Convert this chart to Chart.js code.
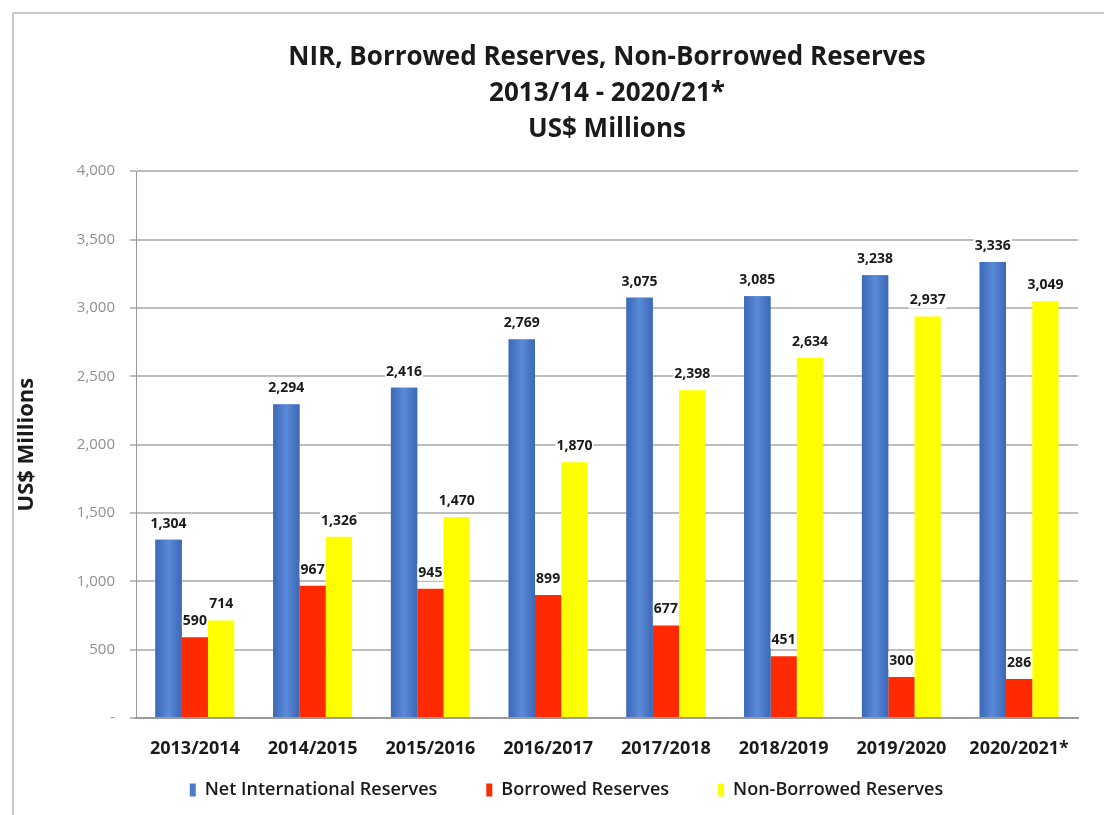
<!DOCTYPE html>
<html>
<head>
<meta charset="utf-8">
<script src="https://cdn.jsdelivr.net/npm/chart.js@4/dist/chart.umd.min.js"></script>
<style>
  html, body { margin: 0; padding: 0; background: #fff; }
  #wrap { position: relative; width: 1104px; height: 815px; }
  #frame { position: absolute; left: 12px; top: 12px; right: 0; bottom: 0; border-left: 2px solid #c8c8c8; border-top: 2px solid #c8c8c8; pointer-events: none; }
</style>
</head>
<body>
<div id="wrap">
  <canvas id="chart" width="1104" height="815"></canvas>
  <div id="frame"></div>
</div>
<script>
const years = ["2013/2014", "2014/2015", "2015/2016", "2016/2017", "2017/2018", "2018/2019", "2019/2020", "2020/2021*"];
const nir = [1304, 2294, 2416, 2769, 3075, 3085, 3238, 3336];
const borrowed = [590, 967, 945, 899, 677, 451, 300, 286];
const nonBorrowed = [714, 1326, 1470, 1870, 2398, 2634, 2937, 3049];
const titleLines = ["NIR, Borrowed Reserves, Non-Borrowed Reserves", "2013/14 - 2020/21*", "US$ Millions"];

const FONT = "'Open Sans', 'Liberation Sans', sans-serif";
const GAP = "\u2003\u2003\u2009";           // extra room between legend entries
const TAIL = "\u2003\u2003\u2003\u2003\u2002"; // nudges the legend row to the left

// soft horizontal shading on the blue bars
const blueShade = {
  id: "blueShade",
  afterDatasetDraw(chart, args) {
    if (args.index !== 0) return;
    const ctx = chart.ctx;
    ctx.save();
    args.meta.data.forEach(bar => {
      const left = bar.x - bar.width / 2;
      const g = ctx.createLinearGradient(left, 0, left + bar.width, 0);
      g.addColorStop(0, "#3c68b6");
      g.addColorStop(0.5, "#5a8ad8");
      g.addColorStop(1, "#3c68b6");
      ctx.fillStyle = g;
      ctx.fillRect(left, bar.y, bar.width, bar.base - bar.y);
    });
    ctx.restore();
  }
};

// value labels above each bar, on a white patch so gridlines don't run through them
const barLabels = {
  id: "barLabels",
  afterDatasetsDraw(chart) {
    const ctx = chart.ctx;
    ctx.save();
    ctx.font = "bold 14px " + FONT;
    ctx.textAlign = "center";
    ctx.textBaseline = "bottom";
    chart.data.datasets.forEach((ds, i) => {
      chart.getDatasetMeta(i).data.forEach((bar, j) => {
        const txt = ds.data[j].toLocaleString("en-US");
        const w = ctx.measureText(txt).width;
        const y = bar.y - 9;
        ctx.fillStyle = "#fff";
        ctx.fillRect(bar.x - w / 2 - 1, y - 16, w + 2, 17);
        ctx.fillStyle = "#1a1a1a";
        ctx.fillText(txt, bar.x, y);
      });
    });
    ctx.restore();
  }
};

new Chart(document.getElementById("chart"), {
  type: "bar",
  data: {
    labels: years,
    datasets: [
      { label: "Net International Reserves" + GAP, data: nir, backgroundColor: "#4a7bcb" },
      { label: "Borrowed Reserves" + GAP, data: borrowed, backgroundColor: "#ff2a00" },
      { label: "Non-Borrowed Reserves" + TAIL, data: nonBorrowed, backgroundColor: "#ffff00" }
    ]
  },
  options: {
    responsive: false,
    animation: false,
    layout: { padding: { left: 14, right: 26, top: 14, bottom: 6 } },
    datasets: { bar: { categoryPercentage: 0.67, barPercentage: 1.0 } },
    plugins: {
      title: {
        display: true,
        fullSize: false,
        text: titleLines,
        color: "#1a1a1a",
        font: { family: FONT, size: 26, weight: "bold", lineHeight: 1.4 },
        padding: { top: 25, bottom: 23 }
      },
      legend: {
        position: "bottom",
        fullSize: false,
        labels: {
          color: "#1a1a1a",
          font: { family: FONT, size: 18, weight: "600" },
          boxWidth: 6,
          boxHeight: 13,
          padding: 10
        }
      },
      tooltip: { enabled: false }
    },
    scales: {
      x: {
        afterFit(scale) { scale.height = 53; },
        grid: { display: false },
        border: { color: "#9a9a9a", width: 2 },
        ticks: { color: "#1a1a1a", font: { family: FONT, size: 18, weight: "bold" }, padding: 12 }
      },
      y: {
        min: 0,
        max: 4000,
        afterFit(scale) { scale.width = 122; },
        grid: { color: "#bdbdbd", lineWidth: 2, tickLength: 6 },
        border: { color: "#9a9a9a", width: 1 },
        title: {
          display: true,
          text: "US$ Millions",
          color: "#1a1a1a",
          font: { family: FONT, size: 22, weight: "bold" },
          padding: { top: 0, bottom: 0 }
        },
        ticks: {
          stepSize: 500,
          color: "#8f8f8f",
          font: { family: FONT, size: 15 },
          padding: 15,
          callback: v => v === 0 ? "-" : v.toLocaleString("en-US")
        }
      }
    }
  },
  plugins: [blueShade, barLabels]
});
</script>
</body>
</html>
